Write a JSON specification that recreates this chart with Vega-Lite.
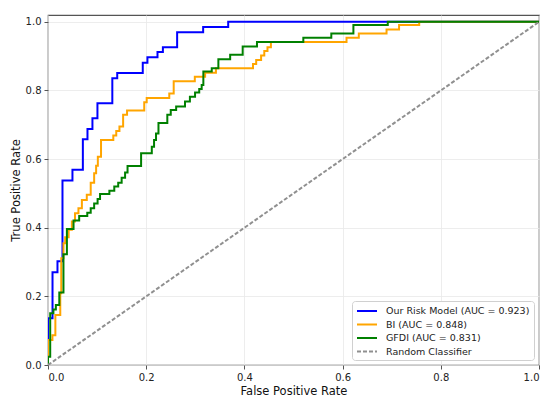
{
  "$schema": "https://vega.github.io/schema/vega-lite/v6.json",
  "width": 491,
  "height": 350,
  "autosize": {"type": "none"},
  "padding": {"left": 48, "top": 15, "right": 11, "bottom": 40},
  "background": "white",
  "config": {
    "font": "DejaVu Sans",
    "view": {"stroke": "#555555", "strokeWidth": 1.2},
    "axis": {
      "grid": true,
      "gridColor": "#e8e8e8",
      "gridWidth": 0.8,
      "domain": false,
      "tickColor": "#555555",
      "tickSize": 4,
      "tickWidth": 1,
      "labelFontSize": 10,
      "labelColor": "#222222",
      "titleFontSize": 11.5,
      "titleFontWeight": "normal",
      "titleColor": "#111111",
      "labelPadding": 3
    },
    "legend": {
      "orient": "bottom-right",
      "offset": 5,
      "padding": 4,
      "strokeColor": "#d0d0d0",
      "fillColor": "white",
      "cornerRadius": 3,
      "labelFontSize": 9.5,
      "labelColor": "#222222",
      "symbolType": "M-1,0H3",
      "symbolSize": 100,
      "labelOffset": 18,
      "rowPadding": 2.5
    }
  },
  "datasets": {
    "roc": [
      {"model": "Our Risk Model (AUC = 0.923)", "fpr": 0, "tpr": 0},
      {"model": "Our Risk Model (AUC = 0.923)", "fpr": 0.0092, "tpr": 0.136},
      {"model": "Our Risk Model (AUC = 0.923)", "fpr": 0.0193, "tpr": 0.270},
      {"model": "Our Risk Model (AUC = 0.923)", "fpr": 0.0295, "tpr": 0.302},
      {"model": "Our Risk Model (AUC = 0.923)", "fpr": 0.0498, "tpr": 0.538},
      {"model": "Our Risk Model (AUC = 0.923)", "fpr": 0.071, "tpr": 0.569},
      {"model": "Our Risk Model (AUC = 0.923)", "fpr": 0.0804, "tpr": 0.658},
      {"model": "Our Risk Model (AUC = 0.923)", "fpr": 0.0905, "tpr": 0.688},
      {"model": "Our Risk Model (AUC = 0.923)", "fpr": 0.1007, "tpr": 0.719},
      {"model": "Our Risk Model (AUC = 0.923)", "fpr": 0.131, "tpr": 0.763},
      {"model": "Our Risk Model (AUC = 0.923)", "fpr": 0.141, "tpr": 0.836},
      {"model": "Our Risk Model (AUC = 0.923)", "fpr": 0.193, "tpr": 0.851},
      {"model": "Our Risk Model (AUC = 0.923)", "fpr": 0.2025, "tpr": 0.881},
      {"model": "Our Risk Model (AUC = 0.923)", "fpr": 0.223, "tpr": 0.897},
      {"model": "Our Risk Model (AUC = 0.923)", "fpr": 0.234, "tpr": 0.912},
      {"model": "Our Risk Model (AUC = 0.923)", "fpr": 0.263, "tpr": 0.926},
      {"model": "Our Risk Model (AUC = 0.923)", "fpr": 0.316, "tpr": 0.970},
      {"model": "Our Risk Model (AUC = 0.923)", "fpr": 0.367, "tpr": 0.985},
      {"model": "Our Risk Model (AUC = 0.923)", "fpr": 1.0, "tpr": 1.0},
      {"model": "BI (AUC = 0.848)", "fpr": 0, "tpr": 0},
      {"model": "BI (AUC = 0.848)", "fpr": 0.009, "tpr": 0.073},
      {"model": "BI (AUC = 0.848)", "fpr": 0.015, "tpr": 0.087},
      {"model": "BI (AUC = 0.848)", "fpr": 0.025, "tpr": 0.146},
      {"model": "BI (AUC = 0.848)", "fpr": 0.027, "tpr": 0.209},
      {"model": "BI (AUC = 0.848)", "fpr": 0.0315, "tpr": 0.311},
      {"model": "BI (AUC = 0.848)", "fpr": 0.035, "tpr": 0.355},
      {"model": "BI (AUC = 0.848)", "fpr": 0.042, "tpr": 0.372},
      {"model": "BI (AUC = 0.848)", "fpr": 0.0486, "tpr": 0.394},
      {"model": "BI (AUC = 0.848)", "fpr": 0.055, "tpr": 0.418},
      {"model": "BI (AUC = 0.848)", "fpr": 0.062, "tpr": 0.442},
      {"model": "BI (AUC = 0.848)", "fpr": 0.069, "tpr": 0.457},
      {"model": "BI (AUC = 0.848)", "fpr": 0.079, "tpr": 0.481},
      {"model": "BI (AUC = 0.848)", "fpr": 0.087, "tpr": 0.496},
      {"model": "BI (AUC = 0.848)", "fpr": 0.094, "tpr": 0.531},
      {"model": "BI (AUC = 0.848)", "fpr": 0.098, "tpr": 0.559},
      {"model": "BI (AUC = 0.848)", "fpr": 0.1015, "tpr": 0.581},
      {"model": "BI (AUC = 0.848)", "fpr": 0.108, "tpr": 0.607},
      {"model": "BI (AUC = 0.848)", "fpr": 0.133, "tpr": 0.656},
      {"model": "BI (AUC = 0.848)", "fpr": 0.139, "tpr": 0.669},
      {"model": "BI (AUC = 0.848)", "fpr": 0.1455, "tpr": 0.682},
      {"model": "BI (AUC = 0.848)", "fpr": 0.153, "tpr": 0.695},
      {"model": "BI (AUC = 0.848)", "fpr": 0.161, "tpr": 0.729},
      {"model": "BI (AUC = 0.848)", "fpr": 0.196, "tpr": 0.742},
      {"model": "BI (AUC = 0.848)", "fpr": 0.201, "tpr": 0.766},
      {"model": "BI (AUC = 0.848)", "fpr": 0.247, "tpr": 0.778},
      {"model": "BI (AUC = 0.848)", "fpr": 0.256, "tpr": 0.791},
      {"model": "BI (AUC = 0.848)", "fpr": 0.299, "tpr": 0.827},
      {"model": "BI (AUC = 0.848)", "fpr": 0.320, "tpr": 0.840},
      {"model": "BI (AUC = 0.848)", "fpr": 0.342, "tpr": 0.852},
      {"model": "BI (AUC = 0.848)", "fpr": 0.4175, "tpr": 0.865},
      {"model": "BI (AUC = 0.848)", "fpr": 0.424, "tpr": 0.877},
      {"model": "BI (AUC = 0.848)", "fpr": 0.434, "tpr": 0.889},
      {"model": "BI (AUC = 0.848)", "fpr": 0.4405, "tpr": 0.902},
      {"model": "BI (AUC = 0.848)", "fpr": 0.447, "tpr": 0.915},
      {"model": "BI (AUC = 0.848)", "fpr": 0.454, "tpr": 0.926},
      {"model": "BI (AUC = 0.848)", "fpr": 0.608, "tpr": 0.941},
      {"model": "BI (AUC = 0.848)", "fpr": 0.633, "tpr": 0.954},
      {"model": "BI (AUC = 0.848)", "fpr": 0.6895, "tpr": 0.966},
      {"model": "BI (AUC = 0.848)", "fpr": 0.715, "tpr": 0.978},
      {"model": "BI (AUC = 0.848)", "fpr": 0.756, "tpr": 0.991},
      {"model": "BI (AUC = 0.848)", "fpr": 1.0, "tpr": 1.0},
      {"model": "GFDI (AUC = 0.831)", "fpr": 0, "tpr": 0},
      {"model": "GFDI (AUC = 0.831)", "fpr": 0.0045, "tpr": 0.024},
      {"model": "GFDI (AUC = 0.831)", "fpr": 0.011, "tpr": 0.151},
      {"model": "GFDI (AUC = 0.831)", "fpr": 0.016, "tpr": 0.162},
      {"model": "GFDI (AUC = 0.831)", "fpr": 0.023, "tpr": 0.175},
      {"model": "GFDI (AUC = 0.831)", "fpr": 0.0315, "tpr": 0.211},
      {"model": "GFDI (AUC = 0.831)", "fpr": 0.0385, "tpr": 0.323},
      {"model": "GFDI (AUC = 0.831)", "fpr": 0.052, "tpr": 0.396},
      {"model": "GFDI (AUC = 0.831)", "fpr": 0.0635, "tpr": 0.421},
      {"model": "GFDI (AUC = 0.831)", "fpr": 0.080, "tpr": 0.434},
      {"model": "GFDI (AUC = 0.831)", "fpr": 0.087, "tpr": 0.444},
      {"model": "GFDI (AUC = 0.831)", "fpr": 0.094, "tpr": 0.457},
      {"model": "GFDI (AUC = 0.831)", "fpr": 0.101, "tpr": 0.471},
      {"model": "GFDI (AUC = 0.831)", "fpr": 0.106, "tpr": 0.484},
      {"model": "GFDI (AUC = 0.831)", "fpr": 0.125, "tpr": 0.498},
      {"model": "GFDI (AUC = 0.831)", "fpr": 0.135, "tpr": 0.508},
      {"model": "GFDI (AUC = 0.831)", "fpr": 0.143, "tpr": 0.520},
      {"model": "GFDI (AUC = 0.831)", "fpr": 0.150, "tpr": 0.531},
      {"model": "GFDI (AUC = 0.831)", "fpr": 0.157, "tpr": 0.546},
      {"model": "GFDI (AUC = 0.831)", "fpr": 0.162, "tpr": 0.561},
      {"model": "GFDI (AUC = 0.831)", "fpr": 0.1896, "tpr": 0.580},
      {"model": "GFDI (AUC = 0.831)", "fpr": 0.2114, "tpr": 0.617},
      {"model": "GFDI (AUC = 0.831)", "fpr": 0.216, "tpr": 0.636},
      {"model": "GFDI (AUC = 0.831)", "fpr": 0.220, "tpr": 0.656},
      {"model": "GFDI (AUC = 0.831)", "fpr": 0.225, "tpr": 0.675},
      {"model": "GFDI (AUC = 0.831)", "fpr": 0.243, "tpr": 0.705},
      {"model": "GFDI (AUC = 0.831)", "fpr": 0.250, "tpr": 0.729},
      {"model": "GFDI (AUC = 0.831)", "fpr": 0.261, "tpr": 0.743},
      {"model": "GFDI (AUC = 0.831)", "fpr": 0.279, "tpr": 0.753},
      {"model": "GFDI (AUC = 0.831)", "fpr": 0.289, "tpr": 0.768},
      {"model": "GFDI (AUC = 0.831)", "fpr": 0.2995, "tpr": 0.782},
      {"model": "GFDI (AUC = 0.831)", "fpr": 0.308, "tpr": 0.794},
      {"model": "GFDI (AUC = 0.831)", "fpr": 0.313, "tpr": 0.804},
      {"model": "GFDI (AUC = 0.831)", "fpr": 0.3164, "tpr": 0.816},
      {"model": "GFDI (AUC = 0.831)", "fpr": 0.3335, "tpr": 0.855},
      {"model": "GFDI (AUC = 0.831)", "fpr": 0.347, "tpr": 0.865},
      {"model": "GFDI (AUC = 0.831)", "fpr": 0.371, "tpr": 0.891},
      {"model": "GFDI (AUC = 0.831)", "fpr": 0.3965, "tpr": 0.904},
      {"model": "GFDI (AUC = 0.831)", "fpr": 0.4256, "tpr": 0.928},
      {"model": "GFDI (AUC = 0.831)", "fpr": 0.520, "tpr": 0.941},
      {"model": "GFDI (AUC = 0.831)", "fpr": 0.577, "tpr": 0.954},
      {"model": "GFDI (AUC = 0.831)", "fpr": 0.622, "tpr": 0.966},
      {"model": "GFDI (AUC = 0.831)", "fpr": 0.692, "tpr": 0.991},
      {"model": "GFDI (AUC = 0.831)", "fpr": 1.0, "tpr": 1.0}
    ],
    "diag": [
      {"model": "Random Classifier", "fpr": 0, "tpr": 0},
      {"model": "Random Classifier", "fpr": 1, "tpr": 1}
    ]
  },
  "encoding": {
    "x": {
      "field": "fpr",
      "type": "quantitative",
      "scale": {"domain": [0, 1], "nice": false},
      "axis": {"values": [0, 0.2, 0.4, 0.6, 0.8, 1.0], "format": ".1f", "title": "False Positive Rate", "titlePadding": 3}
    },
    "y": {
      "field": "tpr",
      "type": "quantitative",
      "scale": {"domain": [0, 1.02], "nice": false},
      "axis": {"values": [0, 0.2, 0.4, 0.6, 0.8, 1.0], "format": ".1f", "title": "True Positive Rate", "titlePadding": 4}
    },
    "color": {
      "field": "model",
      "type": "nominal",
      "scale": {
        "domain": ["Our Risk Model (AUC = 0.923)", "BI (AUC = 0.848)", "GFDI (AUC = 0.831)", "Random Classifier"],
        "range": ["#0000ff", "#ffa500", "#008000", "#909090"]
      },
      "legend": {"title": null}
    },
    "strokeDash": {
      "field": "model",
      "type": "nominal",
      "scale": {
        "domain": ["Our Risk Model (AUC = 0.923)", "BI (AUC = 0.848)", "GFDI (AUC = 0.831)", "Random Classifier"],
        "range": [[1, 0], [1, 0], [1, 0], [4, 2]]
      },
      "legend": {"title": null}
    },
    "strokeWidth": {
      "field": "model",
      "type": "nominal",
      "scale": {
        "domain": ["Our Risk Model (AUC = 0.923)", "BI (AUC = 0.848)", "GFDI (AUC = 0.831)", "Random Classifier"],
        "range": [2, 2, 2, 1]
      },
      "legend": {"title": null}
    }
  },
  "layer": [
    {
      "data": {"name": "roc"},
      "mark": {"type": "line", "interpolate": "step-before", "clip": true}
    },
    {
      "data": {"name": "diag"},
      "mark": {"type": "line", "clip": true}
    }
  ]
}
